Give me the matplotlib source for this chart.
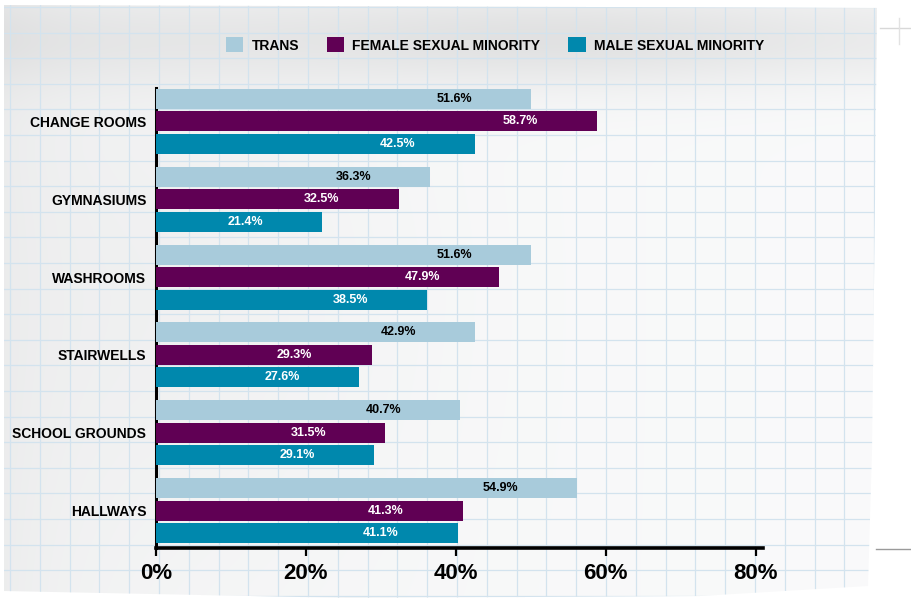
import numpy as np
import matplotlib
matplotlib.use("Agg")
import matplotlib.pyplot as plt
from matplotlib.patches import Polygon, Patch

plt.rcParams["font.family"] = ["Liberation Sans", "DejaVu Sans"]
plt.rcParams["font.weight"] = "bold"

categories = ["CHANGE ROOMS", "GYMNASIUMS", "WASHROOMS", "STAIRWELLS", "SCHOOL GROUNDS", "HALLWAYS"]
series = ["TRANS", "FEMALE SEXUAL MINORITY", "MALE SEXUAL MINORITY"]

# bar lengths as drawn in the picture (%)
trans = [50.1, 36.6, 50.1, 42.6, 40.6, 56.2]
female = [58.9, 32.4, 45.8, 28.8, 30.6, 41.0]
male = [42.6, 22.2, 36.2, 27.1, 29.1, 40.3]

# printed labels
trans_lbl = ["51.6%", "36.3%", "51.6%", "42.9%", "40.7%", "54.9%"]
female_lbl = ["58.7%", "32.5%", "47.9%", "29.3%", "31.5%", "41.3%"]
male_lbl = ["42.5%", "21.4%", "38.5%", "27.6%", "29.1%", "41.1%"]

xticks = [0, 20, 40, 60, 80]
xtick_labels = ["0%", "20%", "40%", "60%", "80%"]

colors = ["#A8CBDB", "#600054", "#0088AD"]
label_colors = ["black", "white", "white"]

W, H = 911, 605


def drawPaper(fig):
    bg = fig.add_axes([0, 0, 1, 1], zorder=-10)
    bg.set_xlim(0, W)
    bg.set_ylim(H, 0)
    bg.axis("off")

    paper = Polygon(
        [(4, 5), (877, 8), (875, 200), (872, 450), (868, 586), (700, 596), (350, 598), (4, 591)],
        closed=True, facecolor="none", edgecolor="none",
    )
    bg.add_patch(paper)

    yy, xx = np.mgrid[0:H, 0:W]
    v = 0.968 - 0.09 * np.exp(-((yy - 38) / 50.0) ** 2) * (0.55 + 0.45 * np.exp(-((xx - 560) / 260.0) ** 2))
    v = v - 0.035 * np.exp(-xx / 90.0) - 0.02 * np.exp(-((xx - 200) / 200.0) ** 2) * np.exp(-((yy - 300) / 250.0) ** 2)
    v = v + 0.015 * (xx / W)
    img = np.dstack([v - 0.004, v - 0.002, v])
    im = bg.imshow(np.clip(img, 0, 1), extent=(0, W, H, 0), interpolation="bilinear")
    im.set_clip_path(paper)

    for x in np.arange(10, 876, 29.8):
        ln, = bg.plot([x, x], [0, H], color="#D3E3EE", lw=0.9)
        ln.set_clip_path(paper)
    for y in np.arange(7, 600, 25.6):
        ln, = bg.plot([0, W], [y, y], color="#D3E3EE", lw=0.9)
        ln.set_clip_path(paper)

    # bits of the neighbouring page
    bg.plot([876, 911], [549, 549], color="#9A9A9A", lw=1)
    bg.plot([880, 911], [28, 28], color="#D8D8D8", lw=1)
    bg.plot([899, 899], [18, 44], color="#E2E2E2", lw=1)


def drawBars(fig):
    ax = fig.add_axes([156 / W, 1 - 548 / H, (763 - 156) / W, (548 - 88) / H])
    ax.set_facecolor("none")
    y = np.arange(len(categories))
    offs = [-0.289, 0.0, 0.289]
    vals = [trans, female, male]
    lbls = [trans_lbl, female_lbl, male_lbl]
    for i in range(3):
        ax.barh(y + offs[i], vals[i], height=0.257, color=colors[i], zorder=3)
        for j in range(len(categories)):
            ax.text(vals[i][j] - 10.3, y[j] + offs[i], lbls[i][j], ha="center", va="center",
                    color=label_colors[i], fontsize=9, zorder=4)

    ax.set_xlim(0, 81.0)
    ax.set_ylim(5.48, -0.43)
    ax.set_yticks(y)
    ax.set_yticklabels(categories, fontsize=10)
    ax.set_xticks(xticks)
    ax.set_xticklabels(xtick_labels, fontsize=16)
    ax.tick_params(axis="y", length=0, pad=7)
    ax.tick_params(axis="x", length=6, width=1.6, direction="out", pad=5)
    for s in ["top", "right"]:
        ax.spines[s].set_visible(False)
    ax.spines["left"].set_linewidth(2.2)
    ax.spines["bottom"].set_linewidth(2.6)

    handles = [Patch(facecolor=c, edgecolor="none") for c in colors]
    fig.legend(handles, series, loc="center", bbox_to_anchor=(495 / W, 1 - 45 / H), ncol=3,
               frameon=False, fontsize=10, handlelength=1.25, handleheight=1.25,
               handletextpad=0.6, columnspacing=2.0)
    return ax


if __name__ == "__main__":
    fig = plt.figure(figsize=(W / 100, H / 100), dpi=100)
    drawPaper(fig)
    drawBars(fig)
    fig.savefig("out.png", dpi=100)
